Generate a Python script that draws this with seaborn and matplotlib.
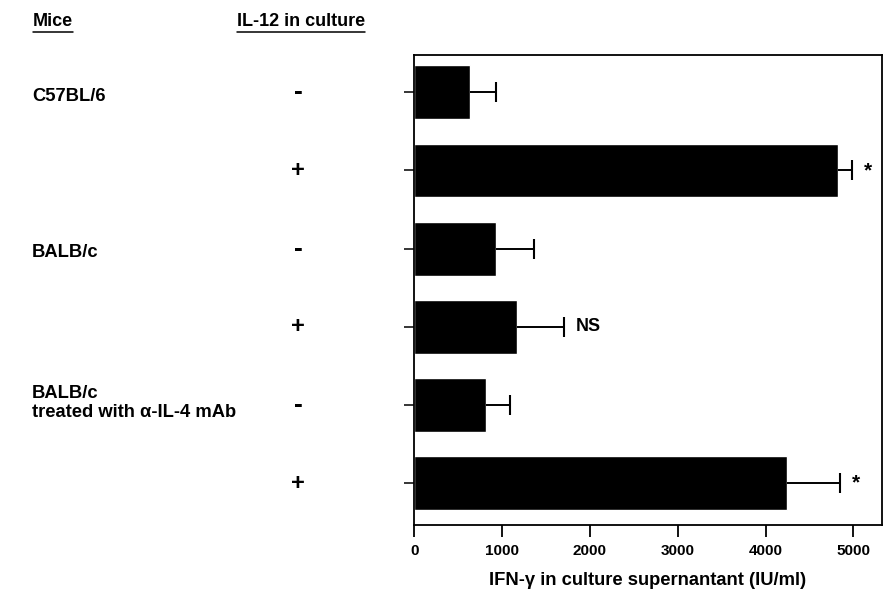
import numpy as np
import pandas as pd
import matplotlib
matplotlib.use("Agg")
import matplotlib.pyplot as plt
import matplotlib.transforms as mtransforms
from matplotlib.lines import Line2D
import seaborn as sns

# values (IU/ml)
conditions = ["C57BL/6 -", "C57BL/6 +", "BALB/c -", "BALB/c +", "anti -", "anti +"]
ifn_mean = [638, 4829, 927, 1170, 820, 4243]
ifn_err = [296, 152, 436, 531, 270, 606]
il12_signs = ["-", "+", "-", "+", "-", "+"]
marks = ["", "*", "", "NS", "", "*"]
mice_labels = [("C57BL/6", 0), ("BALB/c", 2), ("BALB/c\ntreated with α-IL-4 mAb", 4)]
xticks = [0, 1000, 2000, 3000, 4000, 5000]

sns.set_style("white")
plt.rcParams['font.family'] = ['Liberation Sans', 'DejaVu Sans']
plt.rcParams['font.weight'] = 'bold'
plt.rcParams['text.color'] = 'black'
plt.rcParams['xtick.color'] = 'black'
plt.rcParams['ytick.color'] = 'black'
plt.rcParams['axes.labelcolor'] = 'black'

df = pd.DataFrame({"cond": conditions, "ifn": ifn_mean})

fig = plt.figure(figsize=(8.88, 5.95), dpi=100)
ax = fig.add_axes([0.4666, 0.1176, 0.5263, 0.79])

sns.barplot(data=df, x="ifn", y="cond", orient="h", color="black",
            width=0.69, saturation=1, ax=ax)
# one-sided error bars: line from bar end, cap only at the tip
ypos = np.arange(len(conditions))
ax.errorbar(ifn_mean, ypos, xerr=[np.zeros(len(ifn_err)), ifn_err], fmt="none",
            ecolor="black", elinewidth=1.4, capsize=0)
tips = np.array(ifn_mean) + np.array(ifn_err)
ax.plot(tips, ypos, ls="none", marker="|", ms=14, mew=1.5, color="black")

for i, m in enumerate(marks):
    if m:
        ax.text(tips[i] + 140, i, m, ha="left", va="center",
                fontsize=13 if m == "NS" else 15, fontweight="bold")

ax.set_xlim(0, 5323)
ax.set_ylim(5.533, -0.477)
ax.set_xticks(xticks)
ax.set_xticklabels([str(t) for t in xticks], fontsize=11, fontweight="bold")
ax.set_yticks(ypos)
ax.set_yticklabels([])
ax.set_ylabel("")
ax.set_xlabel("IFN-γ in culture supernantant (IU/ml)", fontsize=13.2, fontweight="bold")
ax.xaxis.label.set_va("center")
ax.xaxis.set_label_coords(0.5, -0.117)
ax.tick_params(axis="x", direction="out", length=8.5, width=1.3, pad=5, bottom=True)
ax.tick_params(axis="y", direction="out", length=7, width=1.1, left=True)
for s in ax.spines.values():
    s.set_visible(True)
    s.set_color("black")
    s.set_linewidth(1.3)

# IL-12 +/- signs and mouse group labels on the left
trans = mtransforms.blended_transform_factory(fig.transFigure, ax.transData)
for i, sgn in enumerate(il12_signs):
    ax.text(298 / 888, i, sgn, transform=trans, ha="center", va="center",
            fontsize=17 if sgn == "+" else 19, fontweight="bold")
for lab, pos in mice_labels:
    if "\n" in lab:
        ax.text(32 / 888, pos + 0.2, lab, transform=trans, ha="left", va="bottom",
                fontsize=13.2, fontweight="bold", linespacing=1.1)
    else:
        ax.text(32 / 888, pos + 0.05, lab, transform=trans, ha="left", va="center",
                fontsize=13.2, fontweight="bold")

# underlined column headers
headers = [("Mice", 33 / 888), ("IL-12 in culture", 237 / 888)]
hy = 1 - 22 / 595
htexts = [fig.text(x, hy, h, ha="left", va="center", fontsize=13, fontweight="bold")
          for h, x in headers]
fig.canvas.draw()
r = fig.canvas.get_renderer()
for t in htexts:
    bb = t.get_window_extent(r).transformed(fig.transFigure.inverted())
    fig.add_artist(Line2D([bb.x0, bb.x1], [bb.y0 - 0.003, bb.y0 - 0.003],
                          transform=fig.transFigure, color="black", lw=1.1))

fig.savefig("out.png", dpi=100, facecolor="white")
